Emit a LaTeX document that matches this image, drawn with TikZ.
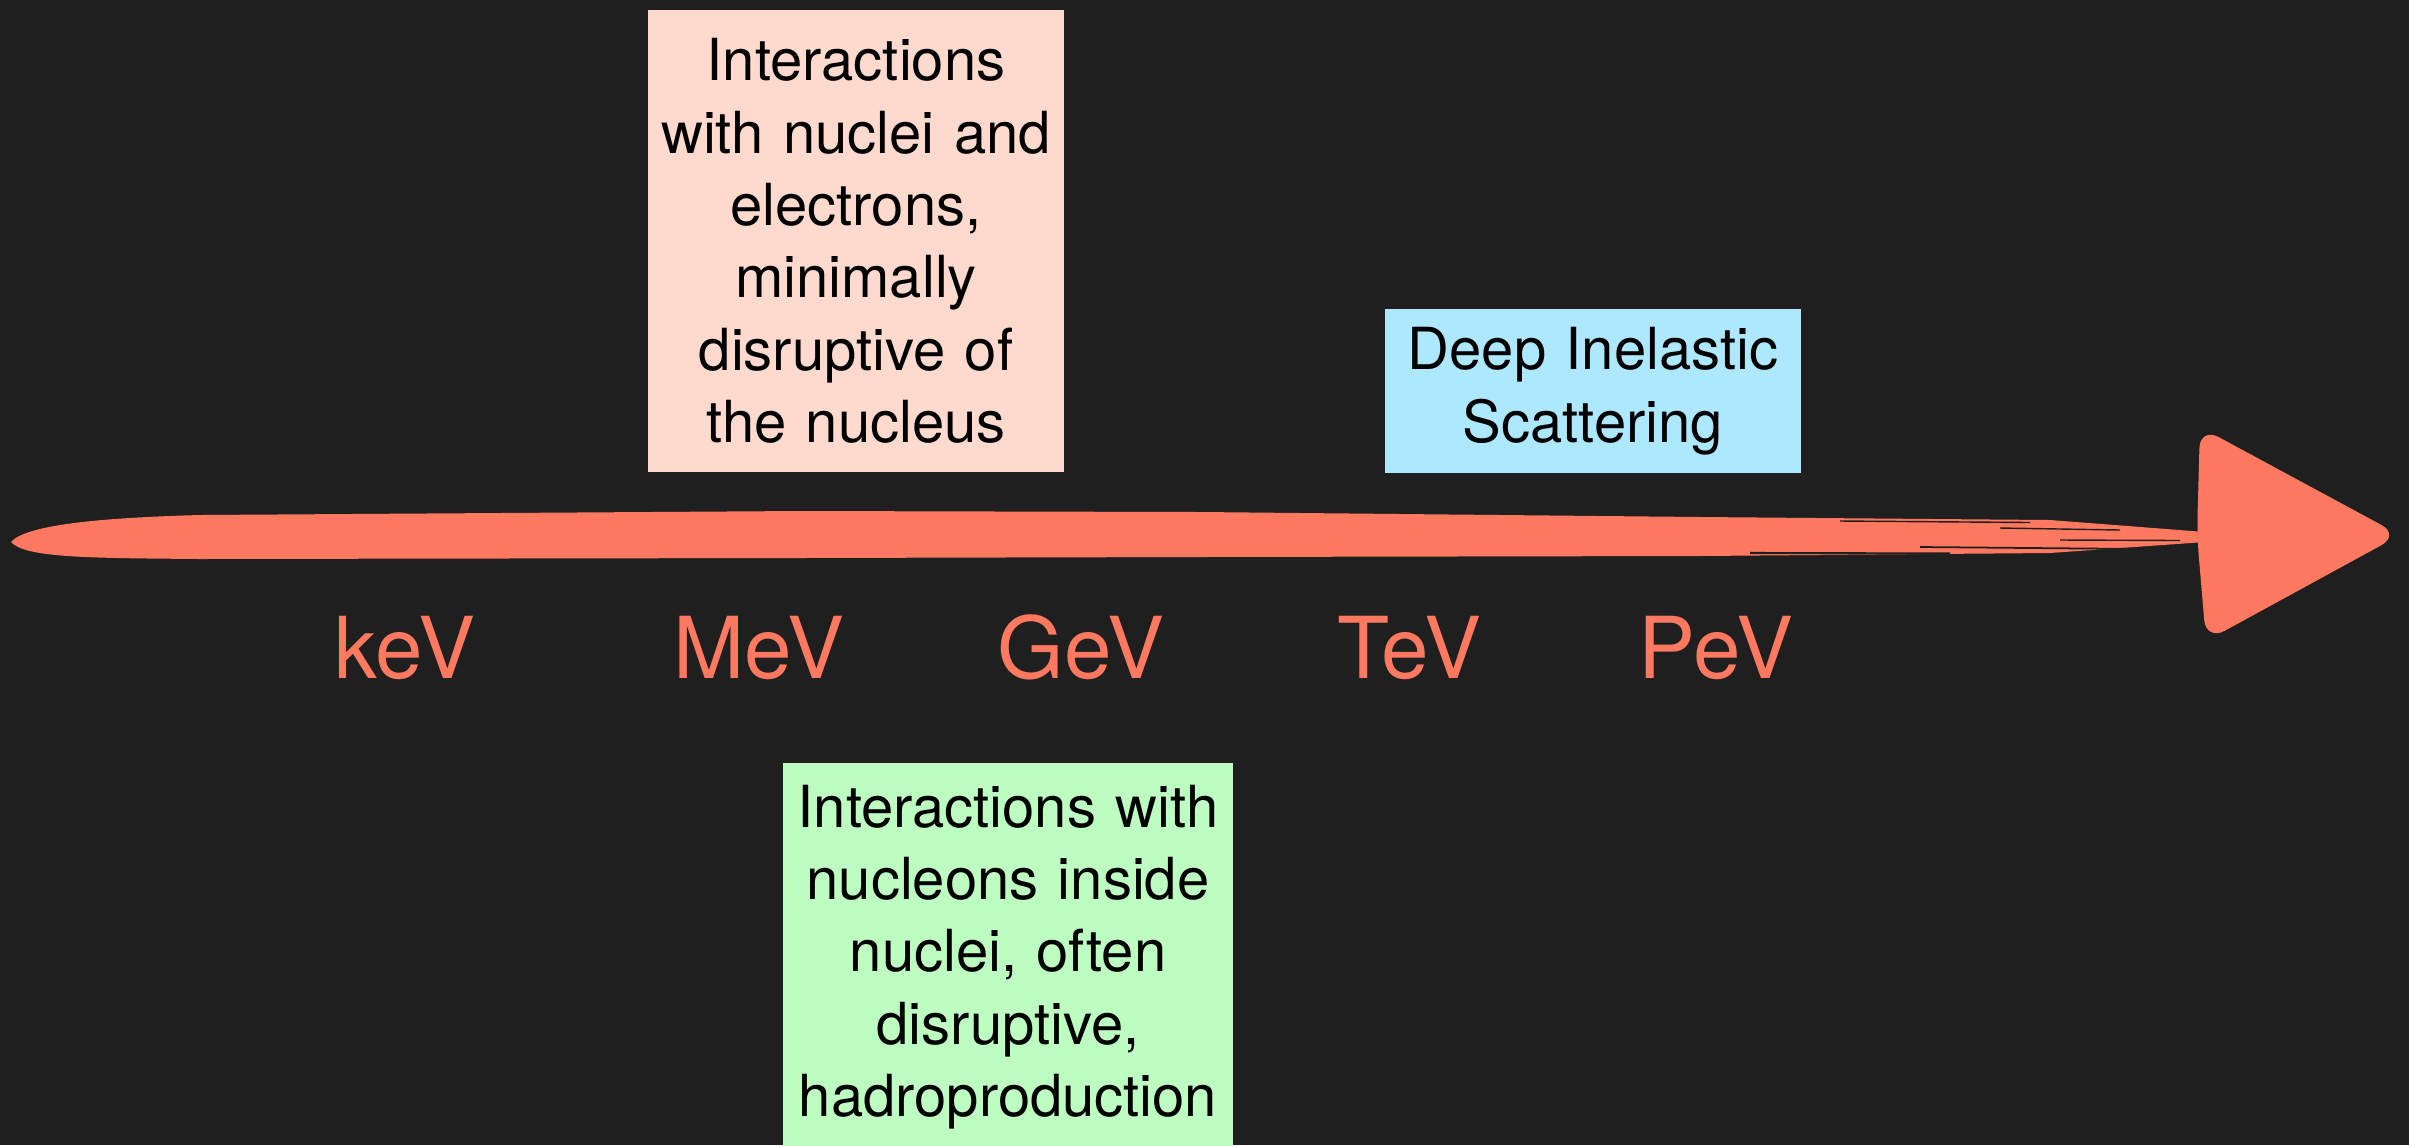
\documentclass[tikz,border=0pt]{standalone}
\usepackage{fontspec}
\setmainfont{TeX Gyre Heros}
\usepackage{tikz}
\usetikzlibrary{positioning}

\definecolor{bgcol}{RGB}{31,31,31}
\definecolor{arrowcol}{RGB}{255,120,96}
\definecolor{pinkbox}{RGB}{253,218,205}
\definecolor{greenbox}{RGB}{190,253,193}
\definecolor{bluebox}{RGB}{174,232,254}

\begin{document}
\begin{tikzpicture}[
  textbox/.style={inner sep=0pt, align=center, text=black,
    font=\fontsize{16.5}{20.6}\selectfont},
  energy/.style={anchor=base, text=arrowcol, inner sep=0pt,
    font=\fontsize{24.3}{29}\selectfont}]
\useasboundingbox (0,0) rectangle (24.09,-11.45);
\fill[bgcol] (0,0) rectangle (24.09,-11.45);

% brush stroke axis
\fill[arrowcol] (0.11,-5.42) .. controls (0.25,-5.26) and (0.9,-5.18) .. (2.0,-5.15)
  -- (8.0,-5.11) -- (12.0,-5.12) -- (17.0,-5.17) -- (20.5,-5.20) -- (22.05,-5.32)
  -- (22.05,-5.42) -- (20.5,-5.53) -- (17.0,-5.56) -- (12.0,-5.57) -- (8.0,-5.58)
  -- (2.0,-5.59) .. controls (0.9,-5.58) and (0.25,-5.58) .. cycle;
\draw[bgcol,line width=0.5pt] (19.2,-5.47) -- (21.4,-5.49);
\draw[bgcol,line width=0.4pt] (20.0,-5.28) -- (21.2,-5.30);
\draw[bgcol,line width=0.6pt] (17.5,-5.53) -- (19.5,-5.535);
\draw[bgcol,line width=0.4pt] (20.6,-5.40) -- (21.8,-5.405);
\draw[bgcol,line width=0.4pt] (18.4,-5.21) -- (20.3,-5.225);
\fill[arrowcol,rounded corners=6pt] (22.0,-4.27) -- (24.0,-5.35) -- (22.06,-6.41)
  -- (21.97,-5.35) -- cycle;

% energy scale
\node[energy] (kev) at (4.05,-6.78) {keV};
\node[energy] (mev) at (7.59,-6.78) {MeV};
\node[energy] (gev) at (10.81,-6.78) {GeV};
\node[energy] (tev) at (14.09,-6.78) {TeV};
\node[energy] (pev) at (17.16,-6.78) {PeV};

% interaction regimes
\node[textbox,fill=pinkbox,minimum width=4.16cm,text width=4.16cm,minimum height=4.62cm]
  (nuclei) at (8.56,-2.41) {Interactions\\with nuclei and\\electrons,\\minimally\\disruptive of\\the nucleus};
\node[textbox,fill=greenbox,minimum width=4.50cm,text width=4.50cm,minimum height=3.88cm]
  (nucleons) at (10.08,-9.57) {Interactions with\\nucleons inside\\nuclei, often\\disruptive,\\hadroproduction};
\node[textbox,fill=bluebox,minimum width=4.16cm,text width=4.16cm,minimum height=1.64cm]
  (dis) at (15.93,-3.91) {Deep Inelastic\\Scattering};
\end{tikzpicture}
\end{document}
